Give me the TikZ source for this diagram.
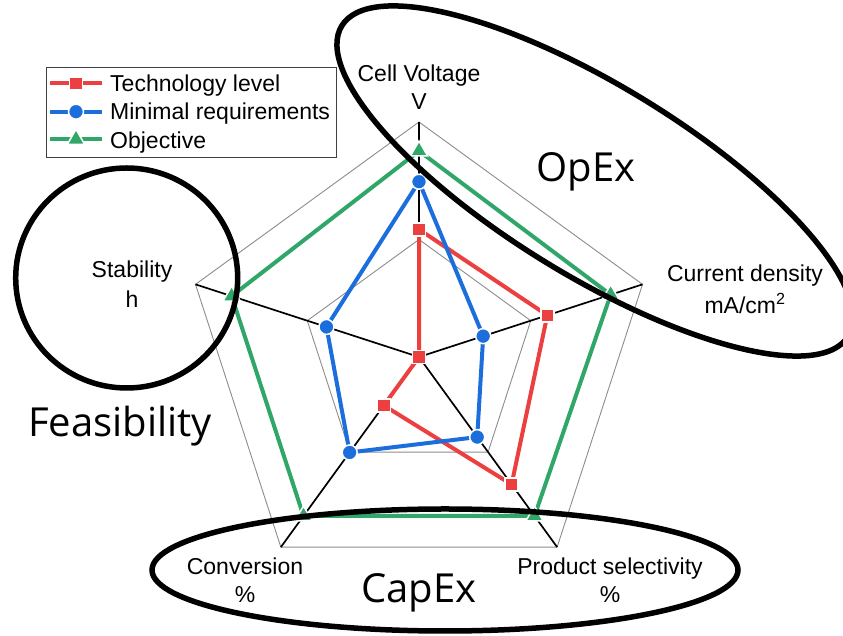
\documentclass[tikz,border=0pt]{standalone}
\usepackage{fontspec}
\setmainfont{Liberation Sans}
\newfontfamily\bigfont{Open Sans}
\usetikzlibrary{shapes.geometric,calc}
\definecolor{cred}{RGB}{236,64,64}
\definecolor{cblue}{RGB}{28,110,220}
\definecolor{cgreen}{RGB}{48,166,104}
\begin{document}
\begin{tikzpicture}[x=1pt,y=1pt,
  gridline/.style={draw=black!45, line width=0.9pt},
  axisline/.style={draw=black, line width=1.7pt},
  ser/.style={line width=4pt, line join=round},
  sqmark/.style={rectangle, fill=cred, draw=white, line width=1.5pt, minimum size=13pt, inner sep=0pt},
  dotmark/.style={circle, fill=cblue, draw=white, line width=1.5pt, minimum size=15pt, inner sep=0pt},
  trimark/.style={regular polygon, regular polygon sides=3, fill=cgreen, draw=white, line width=1.5pt, minimum size=20pt, inner sep=0pt},
  lab/.style={font=\fontsize{23}{28}\selectfont, inner sep=0pt, anchor=base},
  leglab/.style={font=\fontsize{23}{28}\selectfont, inner sep=0pt, anchor=base west},
  biglab/.style={font=\bigfont\fontsize{40}{48}\selectfont, inner sep=0pt, anchor=base},
  ring/.style={draw=black, line width=5.5pt},
]
\useasboundingbox (0,0) rectangle (843,636);
\coordinate (C) at (419,279);
% outer vertices
\path (C) ++(90:235) coordinate (v1);
\path (C) ++(18:235) coordinate (v2);
\path (C) ++(-54:235) coordinate (v3);
\path (C) ++(234:235) coordinate (v4);
\path (C) ++(162:235) coordinate (v5);
\path (C) ++(90:117.5) coordinate (h1);
\path (C) ++(18:117.5) coordinate (h2);
\path (C) ++(-54:117.5) coordinate (h3);
\path (C) ++(234:117.5) coordinate (h4);
\path (C) ++(162:117.5) coordinate (h5);
% grid
\draw[gridline] (v1) -- (v2) -- (v3) -- (v4) -- (v5) -- cycle;
\draw[gridline] (h1) -- (h2) -- (h3) -- (h4) -- (h5) -- cycle;
\foreach \v in {v1,v2,v3,v4,v5} \draw[axisline] (C) -- (\v);
% data points
\path (C) ++(90:127.6) coordinate (r1);
\path (C) ++(18:134.9) coordinate (r2);
\path (C) ++(-54:157.5) coordinate (r3);
\path (C) ++(234:59.9) coordinate (r4);
\coordinate (r5) at (C);
\path (C) ++(90:175.3) coordinate (b1);
\path (C) ++(18:67.5) coordinate (b2);
\path (C) ++(-54:99) coordinate (b3);
\path (C) ++(234:118) coordinate (b4);
\path (C) ++(162:97.3) coordinate (b5);
\path (C) ++(90:206) coordinate (g1);
\path (C) ++(18:201.5) coordinate (g2);
\path (C) ++(-54:196.5) coordinate (g3);
\path (C) ++(234:196.5) coordinate (g4);
\path (C) ++(162:197) coordinate (g5);
\draw[ser, cred] (r1) -- (r2) -- (r3) -- (r4) -- (r5) -- cycle;
\draw[ser, cblue] (b1) -- (b2) -- (b3) -- (b4) -- (b5) -- cycle;
\draw[ser, cgreen] (g1) -- (g2) -- (g3) -- (g4) -- (g5) -- cycle;
\foreach \i in {1,...,5} {
  \node[sqmark] (rm\i) at (r\i) {};
  \node[dotmark] (bm\i) at (b\i) {};
  \node[trimark] (gm\i) at (g\i) {};
}
% legend
\draw[draw=black!75, line width=1pt] (46.7,478.7) rectangle (336,568.7);
\coordinate (la1) at (50,552.7); \coordinate (lb1) at (102,552.7);
\coordinate (la2) at (50,524.3); \coordinate (lb2) at (102,524.3);
\coordinate (la3) at (50,496.7); \coordinate (lb3) at (102,496.7);
\draw[ser, cred] (la1) -- (lb1);
\draw[ser, cblue] (la2) -- (lb2);
\draw[ser, cgreen] (la3) -- (lb3);
\node[sqmark] (lm1) at (76,552.7) {};
\node[dotmark] (lm2) at (76,524.3) {};
\node[trimark] (lm3) at (76,496.7) {};
\node[leglab] (lt1) at (110,544.3) {Technology level};
\node[leglab] (lt2) at (110,516) {Minimal requirements};
\node[leglab] (lt3) at (110,487.7) {Objective};
% axis labels
\node[lab] (cv) at (419,554) {\begin{tabular}[t]{@{}c@{}}Cell Voltage\\V\end{tabular}};
\node[lab] (cd) at (745,354) {\begin{tabular}[t]{@{}c@{}}Current density\\[3pt]mA/cm\textsuperscript{2}\end{tabular}};
\node[lab] (ps) at (610,61) {\begin{tabular}[t]{@{}c@{}}Product selectivity\\\%\end{tabular}};
\node[lab] (cn) at (245,61) {\begin{tabular}[t]{@{}c@{}}Conversion\\\%\end{tabular}};
\node[lab] (st) at (132,358) {\begin{tabular}[t]{@{}c@{}}Stability\\[2pt]h\end{tabular}};
% groups
\draw[ring, rotate around={-31.5:(595,455)}] (595,455) ellipse [x radius=297, y radius=95];
\draw[ring] (126.7,358) ellipse [x radius=111, y radius=110];
\draw[ring] (445,66) ellipse [x radius=293, y radius=61];
\node[biglab] (opex) at (586,454) {OpEx};
\node[biglab] (feas) at (120,199) {Feasibility};
\node[biglab] (capex) at (419,33) {CapEx};
\end{tikzpicture}
\end{document}
